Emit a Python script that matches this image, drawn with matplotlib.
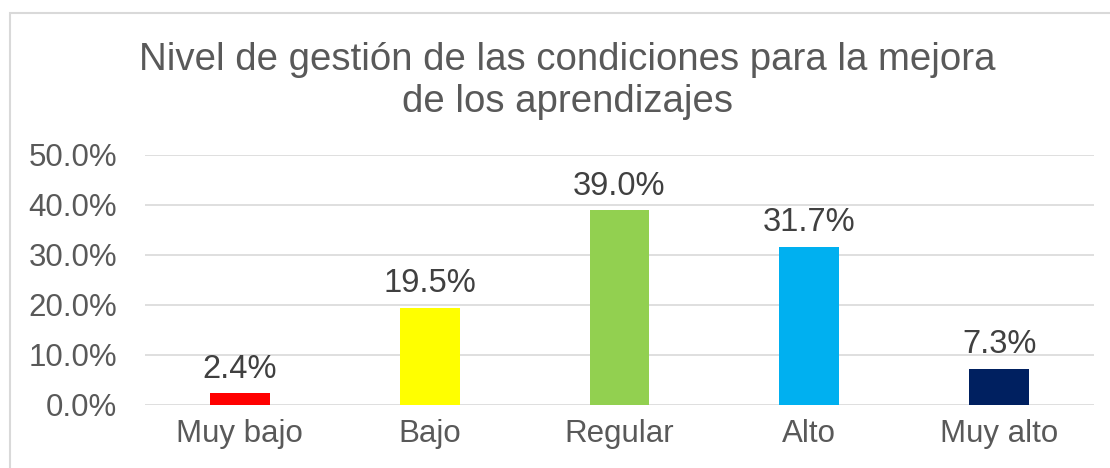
import matplotlib.pyplot as plt
from matplotlib.patches import Rectangle
from matplotlib.ticker import PercentFormatter
import numpy as np

categories = ['Muy bajo', 'Bajo', 'Regular', 'Alto', 'Muy alto']
values = [2.4, 19.5, 39.0, 31.7, 7.3]
colors = ['#FF0000', '#FFFF00', '#92D050', '#00B0F0', '#002060']

plt.rcParams['font.family'] = ['Liberation Sans', 'DejaVu Sans']

fig = plt.figure(figsize=(11.1, 4.68), dpi=100)
ax = fig.add_axes([145/1110, 63/468, (1094-145)/1110, 250/468])

x = np.arange(len(categories))
bars = ax.bar(x, values, width=0.316, color=colors, zorder=3)

for b, v in zip(bars, values):
    ax.annotate(f'{v:.1f}%', (b.get_x() + b.get_width()/2, v),
                xytext=(0, 6), textcoords='offset points',
                ha='center', va='bottom', fontsize=23.5, color='#404040')

ax.set_xlim(-0.5, len(categories) - 0.5)
ax.set_ylim(0, 50)
ax.set_yticks(np.arange(0, 51, 10))
ax.yaxis.set_major_formatter(PercentFormatter(decimals=1))
ax.set_xticks(x)
ax.set_xticklabels(categories)
ax.grid(axis='y', color='#D9D9D9', linewidth=1.2, zorder=0)
ax.tick_params(axis='y', length=0, pad=20, labelsize=22.5, labelcolor='#595959')
ax.tick_params(axis='x', length=0, pad=10, labelsize=22.5, labelcolor='#595959')
for s in ax.spines.values():
    s.set_visible(False)

fig.text(567/1110, 1 - 81/468,
         'Nivel de gestión de las condiciones para la mejora\nde los aprendizajes',
         ha='center', va='center', fontsize=27.6, color='#595959', linespacing=1.2)

fig.patches.append(Rectangle((10/1110, -0.1), 1.2, (468-13)/468 + 0.1,
                             transform=fig.transFigure, fill=False,
                             edgecolor='#D9D9D9', linewidth=1.5))

fig.savefig('out.png', dpi=100, facecolor='white')
